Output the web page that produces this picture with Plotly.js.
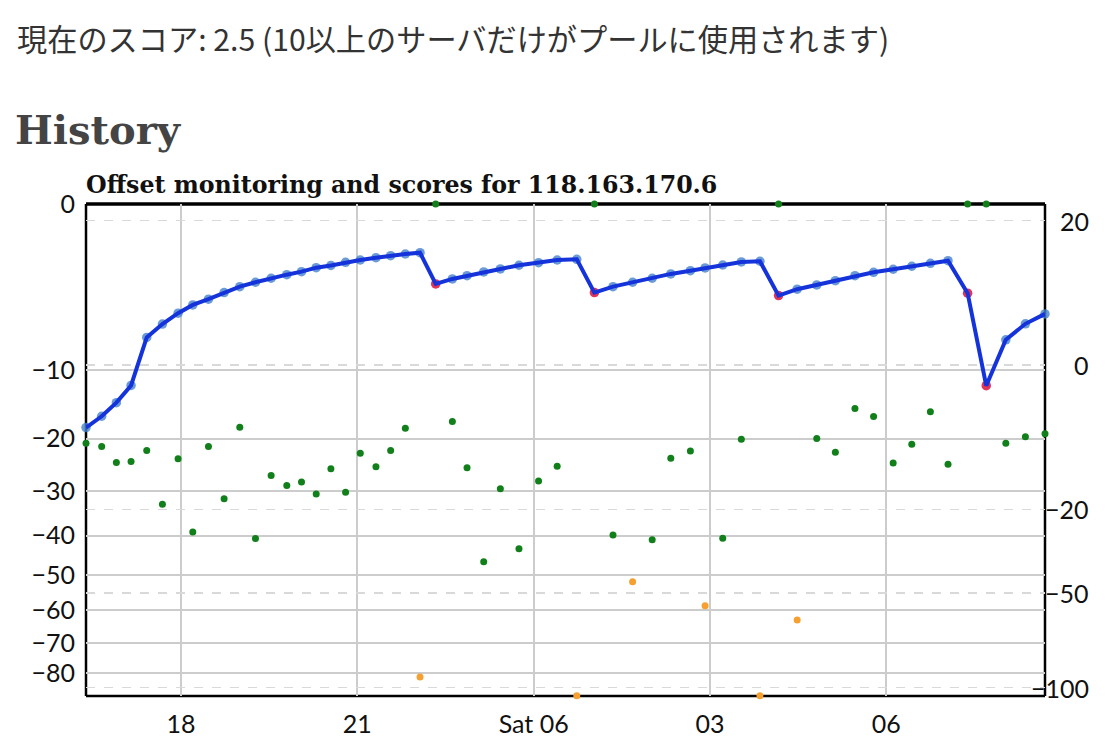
<!DOCTYPE html>
<html>
<head>
<meta charset="utf-8">
<script src="https://cdn.plot.ly/plotly-3.0.1.min.js"></script>
<style>
html,body{margin:0;padding:0;background:#fff;}
#chart{width:1118px;height:740px;}
</style>
</head>
<body>
<div id="chart"></div>
<script>
// ---- data ----
const times = [
'2024-01-05 16:23','2024-01-05 16:39','2024-01-05 16:54','2024-01-05 17:09','2024-01-05 17:25','2024-01-05 17:41','2024-01-05 17:57',
'2024-01-05 18:12','2024-01-05 18:28','2024-01-05 18:44','2024-01-05 19:00','2024-01-05 19:16','2024-01-05 19:32','2024-01-05 19:48',
'2024-01-05 20:03','2024-01-05 20:18','2024-01-05 20:33','2024-01-05 20:48','2024-01-05 21:03','2024-01-05 21:19','2024-01-05 21:34',
'2024-01-05 21:49','2024-01-05 22:04','2024-01-05 22:20','2024-01-05 22:37','2024-01-05 22:52','2024-01-05 23:09','2024-01-05 23:26','2024-01-05 23:45',
'2024-01-06 00:05','2024-01-06 00:24','2024-01-06 00:44','2024-01-06 01:02','2024-01-06 01:21','2024-01-06 01:41','2024-01-06 02:01','2024-01-06 02:20','2024-01-06 02:40','2024-01-06 02:55',
'2024-01-06 03:13','2024-01-06 03:32','2024-01-06 03:51','2024-01-06 04:10','2024-01-06 04:29','2024-01-06 04:49','2024-01-06 05:08','2024-01-06 05:28','2024-01-06 05:47',
'2024-01-06 06:07','2024-01-06 06:26','2024-01-06 06:45','2024-01-06 07:03','2024-01-06 07:23','2024-01-06 07:42','2024-01-06 08:02','2024-01-06 08:22','2024-01-06 08:42'
];
const scores = [
-3.76,-2.52,-1.36,-0.40,0.73,1.61,2.58,3.47,4.16,5.04,
5.90,6.58,7.23,7.84,8.37,9.10,9.52,10.14,10.59,11.06,
11.48,11.84,12.11,6.32,7.12,7.67,8.32,8.86,9.56,10.06,
10.59,10.74,5.04,5.90,6.58,7.23,7.97,8.55,9.05,9.61,
10.20,10.34,4.63,5.52,6.16,6.84,7.67,8.26,8.81,9.37,
9.94,10.45,4.95,-0.41,0.61,1.63,2.51
];
const offsets = [
-20.8,-21.4,-24.3,-24.1,-22.1,-32.8,-23.6,-39.1,-21.4,-31.6,
-18.1,-40.7,-26.8,-28.8,-28.1,-30.6,-25.5,-30.2,-22.6,-25.1,
-22.1,-18.3,-81.3,0,-17.2,-25.3,-46.5,-29.5,-43.2,-27.9,
-25.0,-87.9,0,-39.8,-51.9,-41.0,-23.5,-22.2,-58.7,-40.6,
-20.1,-87.9,0,-62.9,-20.0,-22.4,-15.2,-16.4,-24.4,-21.0,
-15.7,-24.6,0,0,-20.8,-19.7,-19.2
];
const offsetTickValues = [0,-10,-20,-30,-40,-50,-60,-70,-80];
const offsetTickLabels = ['0','\u221210','\u221220','\u221230','\u221240','\u221250','\u221260','\u221270','\u221280'];
const scoreTickValues = [20,0,-20,-50,-100];
const scoreTickLabels = ['20','0','\u221220','\u221250','\u2212100'];
const timeTickValues = ['2024-01-05 18:00','2024-01-05 21:00','2024-01-06 00:00','2024-01-06 03:00','2024-01-06 06:00'];
const timeTickLabels = ['18','21','Sat 06','03','06'];
const offsetMin = -88;
const scoreMin = -105.2, scoreMax = 24.9;
const timeRange = ['2024-01-05 16:23','2024-01-06 08:42'];

// ---- scales (square-root, as in the original) ----
const sqOff = v => -Math.sqrt(Math.abs(v));
const sqScore = v => Math.sign(v) * Math.sqrt(Math.abs(v));

const scoreColors = scores.map((s, i) => (i > 0 && s < scores[i - 1]) ? 'rgba(222,30,70,0.9)' : 'rgba(70,130,205,0.8)');
const offsetColors = offsets.map(v => Math.abs(v) >= 50 ? '#f5a030' : '#12801a');

const tickFont = {family: 'Lato, "Open Sans", sans-serif', size: 25, color: '#111'};

const traces = [
  {x: times, y: offsets.map(sqOff), yaxis: 'y', type: 'scatter', mode: 'markers',
   marker: {size: 7, color: offsetColors}, cliponaxis: false, hoverinfo: 'skip'},
  {x: times, y: scores.map(sqScore), yaxis: 'y2', type: 'scatter', mode: 'markers',
   marker: {size: 9.5, color: scoreColors}, cliponaxis: false, hoverinfo: 'skip'},
  {x: times, y: scores.map(sqScore), yaxis: 'y2', type: 'scatter', mode: 'lines',
   line: {color: '#1533db', width: 4}, hoverinfo: 'skip'}
];

const L = 86, R = 73, T = 204, B = 44, W = 1118, H = 740;
const pw = W - L - R, ph = H - T - B;
const px = x => (x - L) / pw;
const py = y => (H - B - y) / ph;

const annotations = scoreTickValues.map((v, i) => ({
  xref: 'paper', yref: 'y2', x: px(1091), y: sqScore(v), xanchor: 'right', yanchor: 'middle',
  text: scoreTickLabels[i], showarrow: false, font: tickFont
}));
annotations.push({
  xref: 'paper', yref: 'paper', x: px(15), y: py(38), xanchor: 'left', yanchor: 'middle',
  text: '現在のスコア: 2.5 (10以上のサーバだけがプールに使用されます)', showarrow: false,
  font: {family: '"Noto Sans CJK JP", sans-serif', size: 30.2, color: '#333'}
});
annotations.push({
  xref: 'paper', yref: 'paper', x: px(13), y: py(129), xanchor: 'left', yanchor: 'middle',
  text: '<b>History</b>', showarrow: false,
  font: {family: '"DejaVu Serif", serif', size: 40, color: '#444'}
});

const frame = (x0, y0, x1, y1, w) => ({type: 'line', xref: 'paper', yref: 'paper', x0, y0, x1, y1,
  line: {color: '#000', width: w}, layer: 'between'});

const layout = {
  width: W, height: H,
  margin: {l: L, r: R, t: T, b: B, pad: 0},
  paper_bgcolor: '#fff', plot_bgcolor: '#fff',
  showlegend: false,
  title: {text: '<b>Offset monitoring and scores for 118.163.170.6</b>', xref: 'paper', x: 0, xanchor: 'left',
          yref: 'container', y: 1 - 185 / H, yanchor: 'middle',
          font: {family: '"DejaVu Serif", serif', size: 23.7, color: '#111'}},
  xaxis: {type: 'date', range: timeRange, tickmode: 'array', tickvals: timeTickValues, ticktext: timeTickLabels,
          showgrid: true, gridcolor: '#cccccc', gridwidth: 2, zeroline: false, showline: false,
          ticks: 'outside', ticklen: 6, tickcolor: 'rgba(0,0,0,0)', tickfont: tickFont},
  yaxis: {range: [sqOff(offsetMin), 0], tickmode: 'array', tickvals: offsetTickValues.map(sqOff), ticktext: offsetTickLabels,
          showgrid: true, gridcolor: '#cccccc', gridwidth: 2, zeroline: false, showline: false,
          ticks: 'outside', ticklen: 5, tickcolor: 'rgba(0,0,0,0)', tickfont: tickFont},
  yaxis2: {overlaying: 'y', side: 'right', range: [sqScore(scoreMin), sqScore(scoreMax)],
           tickmode: 'array', tickvals: scoreTickValues.map(sqScore), ticktext: scoreTickLabels, showticklabels: false,
           showgrid: true, gridcolor: '#d9d9d9', gridwidth: 1.5, griddash: 'dash', zeroline: false, showline: false},
  annotations: annotations,
  shapes: [
    frame(0, 0, 0, 1, 2.5), frame(1, 0, 1, 1, 2.5), frame(0, 0, 1, 0, 2.5), frame(0, 1, 1, 1, 3.5)
  ]
};

Plotly.newPlot('chart', traces, layout, {staticPlot: true, displayModeBar: false});
</script>
</body>
</html>
